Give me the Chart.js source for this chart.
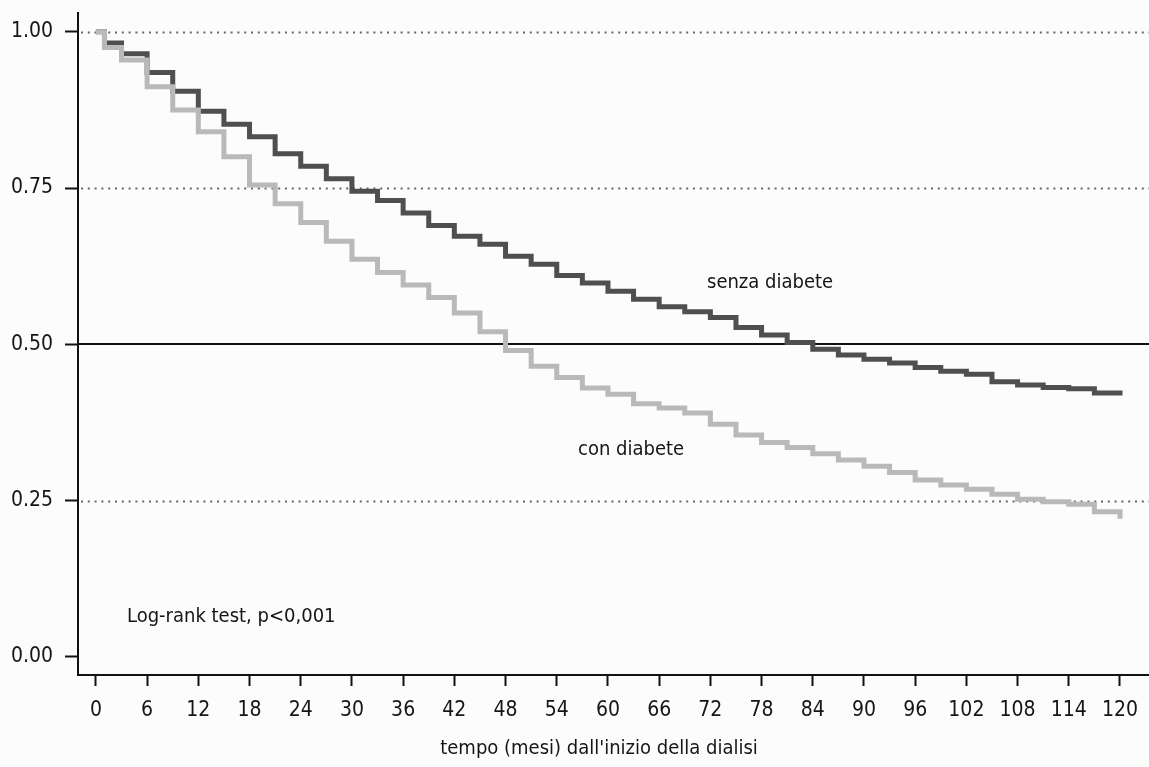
<!DOCTYPE html>
<html lang="it">
<head>
    <meta charset="UTF-8">
    <title>Sopravvivenza in dialisi</title>
    <script src="https://cdn.jsdelivr.net/npm/chart.js@4.4.1/dist/chart.umd.min.js"></script>
    <style>
        html, body { margin: 0; padding: 0; background: #fcfcfc; }
        #wrap { width: 1149px; height: 767px; position: relative; }
    </style>
</head>
<body>
<div id="wrap"><canvas id="km"></canvas></div>
<script>
    // mesi dall'inizio della dialisi
    const months = [0, 1, 3, 6, 9, 12, 15, 18, 21, 24, 27, 30, 33, 36, 39, 42, 45, 48, 51, 54, 57, 60,
        63, 66, 69, 72, 75, 78, 81, 84, 87, 90, 93, 96, 99, 102, 105, 108, 111, 114, 117, 120];
    const senzaDiabete = [1.00, 0.982, 0.965, 0.935, 0.905, 0.873, 0.852, 0.832, 0.805, 0.785, 0.765, 0.745,
        0.730, 0.710, 0.690, 0.673, 0.660, 0.641, 0.628, 0.610, 0.598, 0.585,
        0.572, 0.560, 0.552, 0.543, 0.527, 0.515, 0.503, 0.492, 0.483, 0.476,
        0.470, 0.463, 0.457, 0.452, 0.440, 0.435, 0.431, 0.429, 0.422, 0.418];
    const conDiabete = [1.00, 0.975, 0.955, 0.912, 0.875, 0.840, 0.800, 0.755, 0.725, 0.695, 0.665, 0.636,
        0.615, 0.595, 0.575, 0.550, 0.520, 0.490, 0.465, 0.447, 0.430, 0.420,
        0.405, 0.398, 0.390, 0.372, 0.355, 0.343, 0.335, 0.325, 0.315, 0.305,
        0.295, 0.283, 0.275, 0.268, 0.260, 0.252, 0.248, 0.244, 0.232, 0.221];
    const xTicks = [0, 6, 12, 18, 24, 30, 36, 42, 48, 54, 60, 66, 72, 78, 84, 90, 96, 102, 108, 114, 120];
    const yTicks = [0, 0.25, 0.5, 0.75, 1];

    const FONT = '"DejaVu Sans Condensed", "Liberation Sans", sans-serif';

    const toPoints = (ys) => months.map((m, i) => ({ x: m, y: ys[i] }));

    // linee di riferimento e testi
    const extras = {
        id: 'extras',
        beforeDatasetsDraw(chart) {
            const { ctx, chartArea } = chart;
            const y = chart.scales.y;
            ctx.save();
            [0.25, 0.75, 1].forEach(v => {
                const py = Math.round(y.getPixelForValue(v)) + 0.5;
                ctx.strokeStyle = '#666';
                ctx.lineWidth = 2;
                ctx.setLineDash([2, 4.8]);
                ctx.beginPath();
                ctx.moveTo(chartArea.left + 3, py);
                ctx.lineTo(chartArea.right, py);
                ctx.stroke();
            });
            ctx.setLineDash([]);
            const p5 = Math.round(y.getPixelForValue(0.5));
            ctx.strokeStyle = '#111';
            ctx.lineWidth = 2;
            ctx.beginPath();
            ctx.moveTo(chartArea.left, p5);
            ctx.lineTo(chartArea.right, p5);
            ctx.stroke();
            ctx.restore();
        },
        afterDraw(chart) {
            const { ctx } = chart;
            ctx.save();
            ctx.fillStyle = '#151515';
            ctx.font = '20px ' + FONT;
            ctx.textBaseline = 'middle';
            ctx.textAlign = 'left';
            ctx.fillText('senza diabete', 707, 283);
            ctx.fillText('con diabete', 578, 450);
            ctx.fillText('Log-rank test, p<0,001', 127, 617);
            ctx.textAlign = 'center';
            ctx.fillText("tempo (mesi) dall'inizio della dialisi", 599, 749);
            ctx.restore();
        }
    };

    new Chart(document.getElementById('km'), {
        type: 'line',
        data: {
            datasets: [
                {
                    label: 'con diabete',
                    data: toPoints(conDiabete),
                    borderColor: '#b9b9b9',
                    borderWidth: 5,
                    stepped: true,
                    pointRadius: 0,
                    fill: false
                },
                {
                    label: 'senza diabete',
                    data: toPoints(senzaDiabete),
                    borderColor: '#4f4f4f',
                    borderWidth: 5,
                    stepped: true,
                    pointRadius: 0,
                    fill: false
                }
            ]
        },
        options: {
            responsive: true,
            maintainAspectRatio: false,
            animation: false,
            layout: { padding: { top: 13, right: 0, left: 0, bottom: 0 } },
            plugins: {
                legend: { display: false },
                tooltip: { enabled: false }
            },
            scales: {
                x: {
                    type: 'linear',
                    min: -2.1,
                    max: 123.4,
                    afterBuildTicks: (s) => { s.ticks = xTicks.map(v => ({ value: v })); },
                    afterFit: (s) => { s.height = 92; s.paddingLeft = 0; s.paddingRight = 0; },
                    grid: {
                        drawOnChartArea: false,
                        drawTicks: true,
                        tickLength: 11,
                        tickWidth: 2,
                        tickColor: '#111'
                    },
                    border: { color: '#111', width: 2 },
                    ticks: {
                        color: '#151515',
                        font: { family: FONT, size: 21 },
                        padding: 12,
                        maxRotation: 0,
                        autoSkip: false
                    }
                },
                y: {
                    type: 'linear',
                    min: -0.029,
                    max: 1.03,
                    afterBuildTicks: (s) => { s.ticks = yTicks.map(v => ({ value: v })); },
                    afterFit: (s) => { s.width = 78; s.paddingTop = 0; s.paddingBottom = 0; },
                    grid: {
                        drawOnChartArea: false,
                        drawTicks: true,
                        tickLength: 13,
                        tickWidth: 2,
                        tickColor: '#111'
                    },
                    border: { color: '#111', width: 2 },
                    ticks: {
                        color: '#151515',
                        font: { family: FONT, size: 21 },
                        padding: 12,
                        callback: (v) => Number(v).toFixed(2)
                    }
                }
            }
        },
        plugins: [extras]
    });
</script>
</body>
</html>
